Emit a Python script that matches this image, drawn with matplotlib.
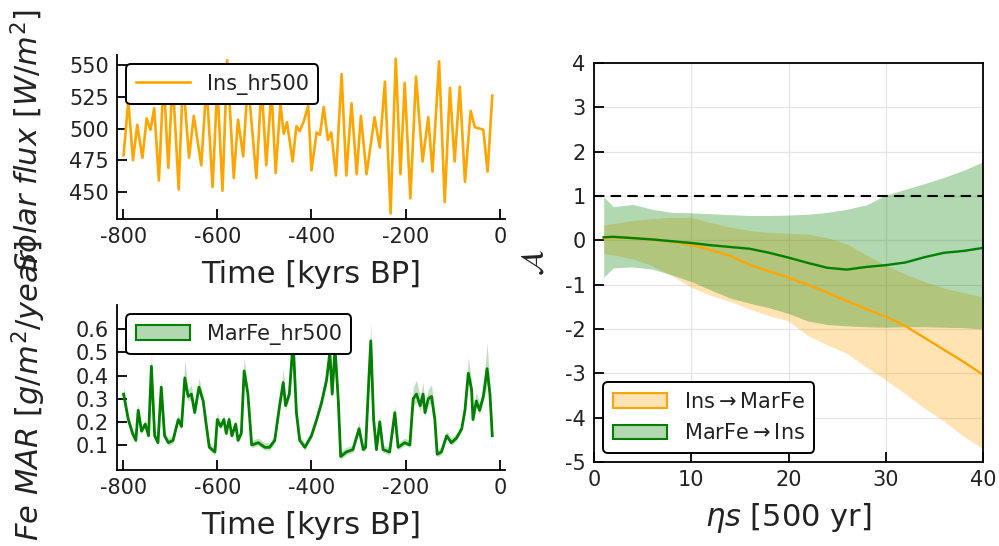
import matplotlib
matplotlib.use("Agg")
import matplotlib.pyplot as plt
import numpy as np
from matplotlib.patches import Patch

plt.rcParams["axes.unicode_minus"] = False
plt.rcParams["mathtext.fontset"] = "dejavusans"

ORANGE = "#FFA500"
GREEN = "#008000"
TXT = "#222222"

# ── insolation record (extrema) ─────────────────────────────────────────────
ins_time = [-799, -789, -779, -770, -759, -750, -742, -734, -724, -714, -704, -695,
            -682, -673, -660, -650, -634, -623, -610, -600, -589, -579, -565, -556,
            -545, -535, -517, -506, -496, -485, -476, -466, -459, -452, -440, -432,
            -425, -416, -407, -400, -389, -382, -374, -365, -358, -348, -336, -326,
            -315, -304, -295, -283, -266, -255, -244, -232, -221, -211, -202, -190,
            -178, -164, -152, -143, -129, -117, -106, -96, -85, -74, -62, -53,
            -43, -35, -26, -16]
ins_value = [479, 522, 475, 503, 477, 508, 499, 516, 459, 540, 469, 540,
             452, 540, 477, 510, 471, 535, 454, 535, 451, 554, 461, 507,
             478, 538, 461, 535, 471, 530, 465, 520, 496, 505, 474, 502,
             498, 506, 518, 467, 497, 495, 517, 491, 497, 463, 543, 463,
             520, 464, 510, 464, 509, 485, 537, 433, 555, 464, 536, 445,
             541, 474, 509, 466, 553, 442, 532, 474, 533, 458, 514, 501,
             500, 499, 466, 526]

# ── Fe mass accumulation rate record ───────────────────────────────────────
fe_time = [-799, -789, -780, -773, -768, -761, -753, -746, -740, -733, -726, -719,
           -712, -704, -694, -683, -676, -669, -662, -655, -648, -639, -630, -623,
           -617, -605, -600, -593, -586, -581, -575, -569, -561, -556, -549, -543,
           -535, -527, -513, -499, -489, -478, -467, -460, -455, -447, -439, -432,
           -425, -414, -400, -389, -379, -368, -361, -356, -350, -343, -338, -326,
           -312, -299, -290, -285, -278, -274, -268, -262, -255, -248, -234, -223,
           -216, -202, -191, -184, -177, -169, -163, -159, -152, -145, -138, -133,
           -124, -113, -103, -92, -81, -74, -67, -60, -57, -50, -43, -35,
           -27, -21, -16]
fe_value = [0.32, 0.21, 0.15, 0.12, 0.25, 0.16, 0.19, 0.14, 0.44, 0.14, 0.11, 0.35,
            0.14, 0.11, 0.12, 0.21, 0.18, 0.39, 0.31, 0.32, 0.24, 0.35, 0.29, 0.18,
            0.09, 0.07, 0.21, 0.18, 0.21, 0.15, 0.21, 0.14, 0.19, 0.12, 0.15, 0.42,
            0.32, 0.10, 0.11, 0.09, 0.09, 0.12, 0.28, 0.37, 0.27, 0.32, 0.55, 0.24,
            0.12, 0.09, 0.14, 0.21, 0.28, 0.38, 0.50, 0.32, 0.52, 0.29, 0.05, 0.07,
            0.08, 0.17, 0.08, 0.09, 0.39, 0.55, 0.21, 0.08, 0.20, 0.08, 0.07, 0.24,
            0.09, 0.11, 0.10, 0.30, 0.32, 0.27, 0.32, 0.24, 0.30, 0.31, 0.21, 0.06,
            0.07, 0.14, 0.11, 0.13, 0.17, 0.25, 0.41, 0.34, 0.21, 0.29, 0.25, 0.31,
            0.43, 0.32, 0.14]
fe_err = [0.03, 0.02, 0.02, 0.02, 0.03, 0.02, 0.02, 0.02, 0.06, 0.02, 0.02, 0.04,
          0.02, 0.02, 0.02, 0.02, 0.02, 0.08, 0.03, 0.04, 0.02, 0.04, 0.02, 0.02,
          0.02, 0.02, 0.03, 0.02, 0.02, 0.02, 0.02, 0.02, 0.02, 0.02, 0.02, 0.06,
          0.03, 0.02, 0.02, 0.02, 0.02, 0.02, 0.03, 0.06, 0.03, 0.03, 0.10, 0.03,
          0.02, 0.02, 0.02, 0.02, 0.03, 0.04, 0.06, 0.03, 0.06, 0.03, 0.02, 0.02,
          0.02, 0.03, 0.02, 0.02, 0.05, 0.08, 0.03, 0.02, 0.03, 0.02, 0.02, 0.03,
          0.02, 0.02, 0.02, 0.05, 0.06, 0.04, 0.05, 0.03, 0.04, 0.05, 0.03, 0.02,
          0.02, 0.02, 0.02, 0.02, 0.02, 0.03, 0.07, 0.04, 0.03, 0.04, 0.03, 0.04,
          0.11, 0.04, 0.02]

# ── convergence curves (right panel) ───────────────────────────────────────
eta = [1, 2, 4, 6, 8, 10, 12, 14, 16, 18, 20, 22, 24, 26, 28, 30, 32, 34, 36, 38, 40]
ins_to_fe = [0.05, 0.07, 0.05, 0.02, -0.03, -0.10, -0.22, -0.35, -0.55, -0.70, -0.84,
             -1.00, -1.18, -1.37, -1.55, -1.72, -1.93, -2.20, -2.47, -2.74, -3.03]
ins_to_fe_hi = [0.34, 0.38, 0.45, 0.49, 0.52, 0.52, 0.40, 0.30, 0.22, 0.18, 0.16,
                0.14, 0.06, -0.08, -0.33, -0.56, -0.76, -0.93, -1.08, -1.18, -1.28]
ins_to_fe_lo = [-0.30, -0.33, -0.42, -0.57, -0.80, -1.06, -1.24, -1.38, -1.55, -1.70, -1.82,
                -2.15, -2.36, -2.55, -2.86, -3.15, -3.46, -3.79, -4.08, -4.42, -4.70]
fe_to_ins = [0.07, 0.08, 0.05, 0.02, -0.02, -0.06, -0.11, -0.15, -0.19, -0.28, -0.39,
             -0.51, -0.62, -0.66, -0.60, -0.56, -0.50, -0.38, -0.28, -0.24, -0.17]
fe_to_ins_hi = [0.98, 0.76, 0.81, 0.70, 0.63, 0.62, 0.60, 0.58, 0.56, 0.56, 0.57,
                0.59, 0.63, 0.70, 0.80, 1.02, 1.15, 1.28, 1.42, 1.58, 1.77]
fe_to_ins_lo = [-0.83, -0.62, -0.60, -0.65, -0.78, -0.93, -1.12, -1.30, -1.42, -1.52, -1.65,
                -1.82, -1.90, -1.93, -1.95, -1.96, -1.95, -1.95, -1.96, -1.97, -2.00]

W, H = 999, 546
LABEL_FS = 22
TICK_FS = 15
LEG_FS = 15

fig = plt.figure(figsize=(W / 100, H / 100), dpi=100)
fig.patch.set_facecolor("white")


def px_axes(x0, y0, x1, y1):
    return fig.add_axes([x0 / W, 1 - y1 / H, (x1 - x0) / W, (y1 - y0) / H])


def style(ax, box=False):
    for s in ["top", "right"]:
        ax.spines[s].set_visible(box)
    for s in ax.spines.values():
        s.set_linewidth(1.3)
        s.set_color("black")
    ax.tick_params(direction="in", length=7, width=1.3, labelsize=TICK_FS,
                   colors="black", labelcolor=TXT, top=False, right=False, pad=6)


def legend(ax, handles, labels, loc):
    leg = ax.legend(handles, labels, loc=loc, fontsize=LEG_FS, frameon=True, fancybox=True,
                    framealpha=1, handlelength=2.6, borderaxespad=0.45, labelspacing=0.55,
                    borderpad=0.45)
    leg.get_frame().set_edgecolor("black")
    leg.get_frame().set_linewidth(1.4)
    for t in leg.get_texts():
        t.set_color(TXT)
    return leg


# ── top-left: insolation ───────────────────────────────────────────────────
ax1 = px_axes(117, 55, 505, 219)
style(ax1)
line, = ax1.plot(ins_time, ins_value, color=ORANGE, lw=1.9)
ax1.set_xlim(-813, 11)
ax1.set_ylim(428.7, 558)
ax1.set_xticks([-800, -600, -400, -200, 0])
ax1.set_yticks([450, 475, 500, 525, 550])
ax1.set_xlabel("Time [kyrs BP]", fontsize=LABEL_FS, color=TXT, labelpad=9)
legend(ax1, [line], ["Ins_hr500"], "upper left")
fig.text(27 / W, 1 - 140 / H, r"$Solar\ flux\ [W/m^2]$", rotation=90, fontsize=LABEL_FS,
         color=TXT, ha="center", va="center")

# ── bottom-left: Fe MAR ─────────────────────────────────────────────────────
ax2 = px_axes(117, 305, 505, 470)
style(ax2)
fe_v = np.array(fe_value)
fe_e = np.array(fe_err)
ax2.fill_between(fe_time, fe_v - fe_e * 0.6, fe_v + fe_e, color=GREEN, alpha=0.25, lw=0)
ax2.plot(fe_time, fe_value, color=GREEN, lw=2.0)
ax2.set_xlim(-813, 11)
ax2.set_ylim(-0.008, 0.705)
ax2.set_xticks([-800, -600, -400, -200, 0])
ax2.set_yticks([0.1, 0.2, 0.3, 0.4, 0.5, 0.6])
ax2.set_xlabel("Time [kyrs BP]", fontsize=LABEL_FS, color=TXT, labelpad=9)
legend(ax2, [Patch(facecolor=(0.0, 0.5, 0.0, 0.3), edgecolor=GREEN, lw=1.5)],
       ["MarFe_hr500"], "upper left")
fig.text(29 / W, 1 - 390 / H, r"$Fe\ MAR\ [g/m^2/year]$", rotation=90, fontsize=LABEL_FS,
         color=TXT, ha="center", va="center")

# ── right: convergence ──────────────────────────────────────────────────────
ax3 = px_axes(594, 63, 983, 462)
style(ax3, box=True)
ax3.grid(True, color="#e4e4e4", lw=0.9)
ax3.set_axisbelow(True)
ax3.fill_between(eta, ins_to_fe_lo, ins_to_fe_hi, color=ORANGE, alpha=0.3, lw=0)
ax3.fill_between(eta, fe_to_ins_lo, fe_to_ins_hi, color=GREEN, alpha=0.3, lw=0)
ax3.plot(eta, ins_to_fe, color=ORANGE, lw=1.7)
ax3.plot(eta, fe_to_ins, color=GREEN, lw=1.7)
ax3.axhline(1, color="black", ls="--", lw=1.5, dashes=(5, 3))
ax3.set_xlim(0, 40)
ax3.set_ylim(-5, 4)
ax3.set_xticks([0, 10, 20, 30, 40])
ax3.set_yticks(range(-5, 5))
ax3.set_xlabel(r"$\eta s$ [500 yr]", fontsize=LABEL_FS, color=TXT, labelpad=8)
ax3.set_ylabel(r"$\mathcal{A}$", fontsize=LABEL_FS, color=TXT, labelpad=12)
h1 = Patch(facecolor=(1.0, 0.647, 0.0, 0.3), edgecolor=ORANGE, lw=1.5)
h2 = Patch(facecolor=(0.0, 0.5, 0.0, 0.3), edgecolor=GREEN, lw=1.5)
legend(ax3, [h1, h2], [r"Ins$\rightarrow$MarFe", r"MarFe$\rightarrow$Ins"], "lower left")

fig.savefig("out.png", dpi=100)
